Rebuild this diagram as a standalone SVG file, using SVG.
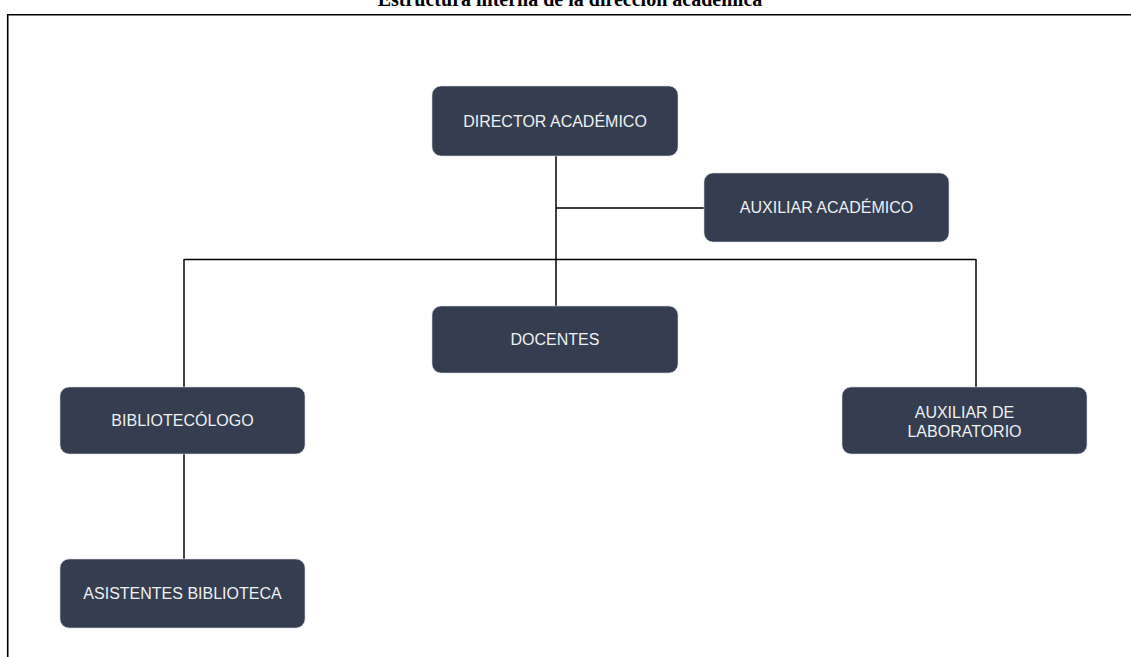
<svg xmlns="http://www.w3.org/2000/svg" width="1131" height="657" viewBox="0 0 1131 657">
<style>
.box{fill:#343e50;stroke:#d6d9de;stroke-width:0.6}
.lbl{font-family:"Liberation Sans",Arial,sans-serif;font-size:16px;fill:#eef0f2;text-anchor:middle}
.conn{stroke:#000;stroke-width:1.5;fill:none}
.title{font-family:"Liberation Serif","Times New Roman",serif;font-size:20px;font-weight:bold;fill:#000;text-anchor:middle}
</style>
<rect x="0" y="0" width="1131" height="657" fill="#fff"/>
<text class="title" x="570" y="6">Estructura interna de la dirección académica</text>
<g id="frame">
<line x1="7" y1="14.75" x2="1131" y2="14.75" stroke="#000" stroke-width="1.6"/>
<line x1="7.7" y1="14" x2="7.7" y2="657" stroke="#000" stroke-width="1.6"/>
</g>
<g id="connectors">
<line class="conn" x1="556" y1="156" x2="556" y2="306"/>
<line class="conn" x1="556" y1="208" x2="704" y2="208"/>
<line class="conn" x1="184" y1="259.5" x2="976" y2="259.5"/>
<line class="conn" x1="184" y1="259" x2="184" y2="559"/>
<line class="conn" x1="976" y1="259" x2="976" y2="387"/>
</g>
<g id="director">
<rect class="box" x="432" y="86" width="246" height="70" rx="9"/>
<text class="lbl" x="555" y="127">DIRECTOR ACADÉMICO</text>
</g>
<g id="auxiliar-academico">
<rect class="box" x="704" y="173" width="245" height="69" rx="9"/>
<text class="lbl" x="826.5" y="213">AUXILIAR ACADÉMICO</text>
</g>
<g id="docentes">
<rect class="box" x="432" y="306" width="246" height="67" rx="9"/>
<text class="lbl" x="555" y="345">DOCENTES</text>
</g>
<g id="bibliotecologo">
<rect class="box" x="60" y="387" width="245" height="67" rx="9"/>
<text class="lbl" x="182.5" y="426">BIBLIOTECÓLOGO</text>
</g>
<g id="auxiliar-laboratorio">
<rect class="box" x="842" y="387" width="245" height="67" rx="9"/>
<text class="lbl" x="964.5" y="418">AUXILIAR DE</text>
<text class="lbl" x="964.5" y="437">LABORATORIO</text>
</g>
<g id="asistentes">
<rect class="box" x="60" y="559" width="245" height="69" rx="9"/>
<text class="lbl" x="182.5" y="599">ASISTENTES BIBLIOTECA</text>
</g>
</svg>
